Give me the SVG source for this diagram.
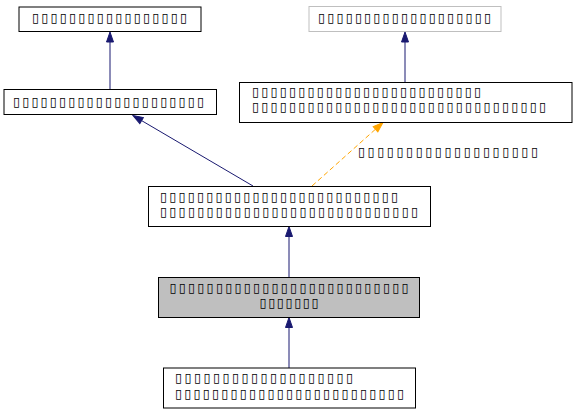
<svg xmlns="http://www.w3.org/2000/svg" width="576" height="413" viewBox="0 0 576 413">
<style>
.n{fill:#fff;stroke:#000;stroke-width:1}
.t{font-family:"DejaVu Sans",sans-serif;font-size:12.8px;fill:#000}
.e{fill:none;stroke:#191970;stroke-width:1}
.o{fill:none;stroke:#ffa500;stroke-width:1;stroke-dasharray:5,3}
</style>
<defs>
<marker id="an" markerUnits="userSpaceOnUse" markerWidth="12" markerHeight="10" refX="0" refY="0" viewBox="0 -5 12 10" orient="auto" overflow="visible"><path d="M0,-3.5L10,0L0,3.5Z" fill="#191970" stroke="#191970"/></marker>
<marker id="ao" markerUnits="userSpaceOnUse" markerWidth="12" markerHeight="10" refX="0" refY="0" viewBox="0 -5 12 10" orient="auto" overflow="visible"><path d="M0,-3.5L10,0L0,3.5Z" fill="#ffa500" stroke="#ffa500"/></marker>
</defs>
<rect width="576" height="413" fill="#fff"/>
<g id="connectors">
<path class="e" d="M110,89.5L110,42" marker-end="url(#an)"/>
<path class="e" d="M253,186L141.6,120.6" marker-end="url(#an)"/>
<path class="e" d="M405,82.5L405,42" marker-end="url(#an)"/>
<path class="o" d="M312,186L375.5,129.2" marker-end="url(#ao)"/>
<text class="t" x="358" y="156.3" textLength="180" lengthAdjust="spacing">▯▯▯▯▯▯▯▯▯▯▯▯▯▯▯▯▯▯▯</text>
<path class="e" d="M289,277.5L289,236.5" marker-end="url(#an)"/>
<path class="e" d="M289,368L289,327.5" marker-end="url(#an)"/>
</g>
<g id="node1"><rect class="n" x="19" y="7" width="182" height="24.5"/><text class="t" x="32" y="22" textLength="155" lengthAdjust="spacing">▯▯▯▯▯▯▯▯▯▯▯▯▯▯▯▯▯</text></g>
<g id="node2"><rect class="n" x="4" y="89.5" width="212.5" height="25"/><text class="t" x="13" y="106.2" textLength="191" lengthAdjust="spacing">▯▯▯▯▯▯▯▯▯▯▯▯▯▯▯▯▯▯▯▯▯</text></g>
<g id="node3"><rect class="n" x="309" y="6.5" width="192" height="25" style="stroke:#bfbfbf"/><text class="t" x="318" y="21.7" textLength="173" lengthAdjust="spacing">▯▯▯▯▯▯▯▯▯▯▯▯▯▯▯▯▯▯▯</text></g>
<g id="node4"><rect class="n" x="239.5" y="82.5" width="332.5" height="40"/><text class="t" x="252" y="96.4" textLength="229" lengthAdjust="spacing">▯▯▯▯▯▯▯▯▯▯▯▯▯▯▯▯▯▯▯▯▯▯▯▯▯</text><text class="t" x="252" y="111.4" textLength="294" lengthAdjust="spacing">▯▯▯▯▯▯▯▯▯▯▯▯▯▯▯▯▯▯▯▯▯▯▯▯▯▯▯▯▯▯▯▯</text></g>
<g id="node5"><rect class="n" x="148.5" y="186.5" width="282" height="40"/><text class="t" x="160" y="201.2" textLength="238" lengthAdjust="spacing">▯▯▯▯▯▯▯▯▯▯▯▯▯▯▯▯▯▯▯▯▯▯▯▯▯▯</text><text class="t" x="160" y="216.2" textLength="258" lengthAdjust="spacing">▯▯▯▯▯▯▯▯▯▯▯▯▯▯▯▯▯▯▯▯▯▯▯▯▯▯▯▯</text></g>
<g id="node6"><rect class="n" x="158.5" y="277.5" width="261" height="40" style="fill:#bfbfbf"/><text class="t" x="289" y="292" text-anchor="middle" textLength="239" lengthAdjust="spacing">▯▯▯▯▯▯▯▯▯▯▯▯▯▯▯▯▯▯▯▯▯▯▯▯▯▯</text><text class="t" x="289" y="307.2" text-anchor="middle" textLength="59" lengthAdjust="spacing">▯▯▯▯▯▯▯</text></g>
<g id="node7"><rect class="n" x="163.5" y="368" width="252" height="40"/><text class="t" x="175" y="382.4" textLength="178" lengthAdjust="spacing">▯▯▯▯▯▯▯▯▯▯▯▯▯▯▯▯▯▯▯</text><text class="t" x="175" y="398.2" textLength="229" lengthAdjust="spacing">▯▯▯▯▯▯▯▯▯▯▯▯▯▯▯▯▯▯▯▯▯▯▯▯▯</text></g>
</svg>
